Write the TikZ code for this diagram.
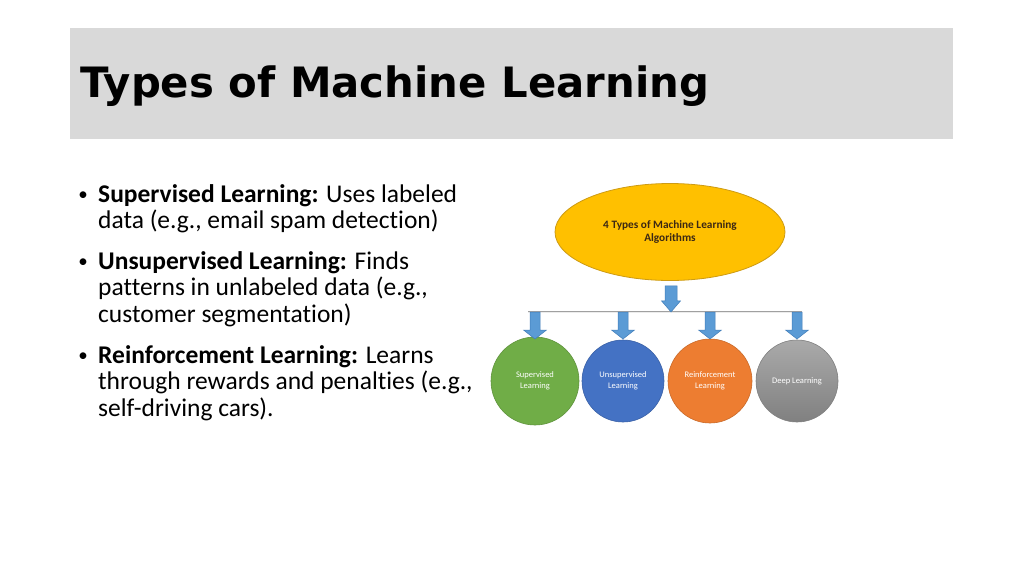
\documentclass[tikz,border=0pt]{standalone}
\usepackage{fontspec}
\setmainfont{Carlito}[Ligatures=NoCommon]
\newfontfamily\titlefont{DejaVu Sans}
\usetikzlibrary{shapes.geometric}
\definecolor{bandgray}{RGB}{217,217,217}
\definecolor{gold}{RGB}{255,192,0}
\definecolor{golddark}{RGB}{205,155,20}
\definecolor{goldtext}{RGB}{60,40,20}
\definecolor{arrowblue}{RGB}{91,155,213}
\definecolor{arrowedge}{RGB}{65,125,185}
\definecolor{cgreen}{RGB}{112,173,71}
\definecolor{cblue}{RGB}{68,114,196}
\definecolor{corange}{RGB}{237,125,49}
\definecolor{cgrayA}{RGB}{170,170,170}
\definecolor{cgrayB}{RGB}{128,128,128}
\definecolor{barline}{RGB}{160,160,160}
\tikzset{
  bullettext/.style={anchor=base west, inner sep=0pt, font=\fontsize{25.5}{26.6}\selectfont},
  bulletdot/.style={anchor=center, inner sep=0pt, font=\fontsize{19}{19}\selectfont},
  typecircle/.style={circle, inner sep=0pt, text=white, align=center, font=\fontsize{8.5}{11}\selectfont},
  pics/barrow/.style n args={4}{code={
    \fill[arrowblue, draw=arrowedge, line width=0.5pt]
      (-#3,0) -- (#3,0) -- (#3,#1-#2) -- (#4,#1-#2) -- (0,#1) -- (-#4,#1-#2) -- (-#3,#1-#2) -- cycle;
  }}
}
\begin{document}
\begin{tikzpicture}[x=1pt,y=-1pt]
\useasboundingbox (0,0) rectangle (1024,576);
\fill[white] (0,0) rectangle (1024,576);
% title band
\fill[bandgray] (70,28) rectangle (953,139);
\node[anchor=base west, inner sep=0pt, font=\titlefont\bfseries\fontsize{41.8}{41.8}\selectfont] (title) at (80,97) {Types of Machine Learning};
% bullets
\node[bulletdot] (d1) at (83,196) {•};
\node[bullettext] (l1) at (98,202) {\textbf{Supervised Learning:} Uses labeled};
\node[bullettext] (l2) at (98,228.5) {data (e.g., email spam detection)};
\node[bulletdot] (d2) at (83,263) {•};
\node[bullettext] (l3) at (98,269) {\textbf{Unsupervised Learning:} Finds};
\node[bullettext] (l4) at (98,295.5) {patterns in unlabeled data (e.g.,};
\node[bullettext] (l5) at (98,322) {customer segmentation)};
\node[bulletdot] (d3) at (83,357) {•};
\node[bullettext] (l6) at (98,363) {\textbf{Reinforcement Learning:} Learns};
\node[bullettext] (l7) at (98,389.5) {through rewards and penalties (e.g.,};
\node[bullettext] (l8) at (98,416) {self-driving cars).};
% diagram
\node[ellipse, minimum width=230, minimum height=97, fill=gold, draw=golddark, line width=0.8pt,
      align=center, text=goldtext, font=\bfseries\fontsize{11.3}{13.5}\selectfont] (root) at (670,232)
      {4 Types of Machine Learning\\Algorithms};
\coordinate (barL) at (528,312);
\coordinate (barR) at (802,312);
\draw[barline, line width=2.6pt] (barL) -- (barR);
\draw[white!85!gray, line width=1pt] (barL) -- (barR);
\node[typecircle, minimum size=88, fill=cgreen, draw=cgreen!85!black, line width=0.6pt] (sup) at (535,381) {Supervised\\Learning};
\node[typecircle, minimum size=82, fill=cblue, draw=cblue!85!black, line width=0.6pt] (uns) at (623,381) {Unsupervised\\Learning};
\node[typecircle, minimum size=84, fill=corange, draw=corange!85!black, line width=0.6pt] (rei) at (710,381) {Reinforcement\\Learning};
\node[typecircle, minimum size=82, top color=cgrayA, bottom color=cgrayB, draw=cgrayB, line width=0.6pt] (dee) at (797,381) {Deep Learning};
% block arrows
\path (root.south) ++(1,5) pic {barrow={26}{11}{6}{9.5}};
\path (sup.north |- barL) pic {barrow={27}{9}{5}{11.5}};
\path (uns.north |- barL) pic {barrow={27}{9}{5}{11.5}};
\path (rei.north |- barL) pic {barrow={27}{9}{5}{11.5}};
\path (dee.north |- barL) pic {barrow={27}{9}{5}{11.5}};
\end{tikzpicture}
\end{document}
